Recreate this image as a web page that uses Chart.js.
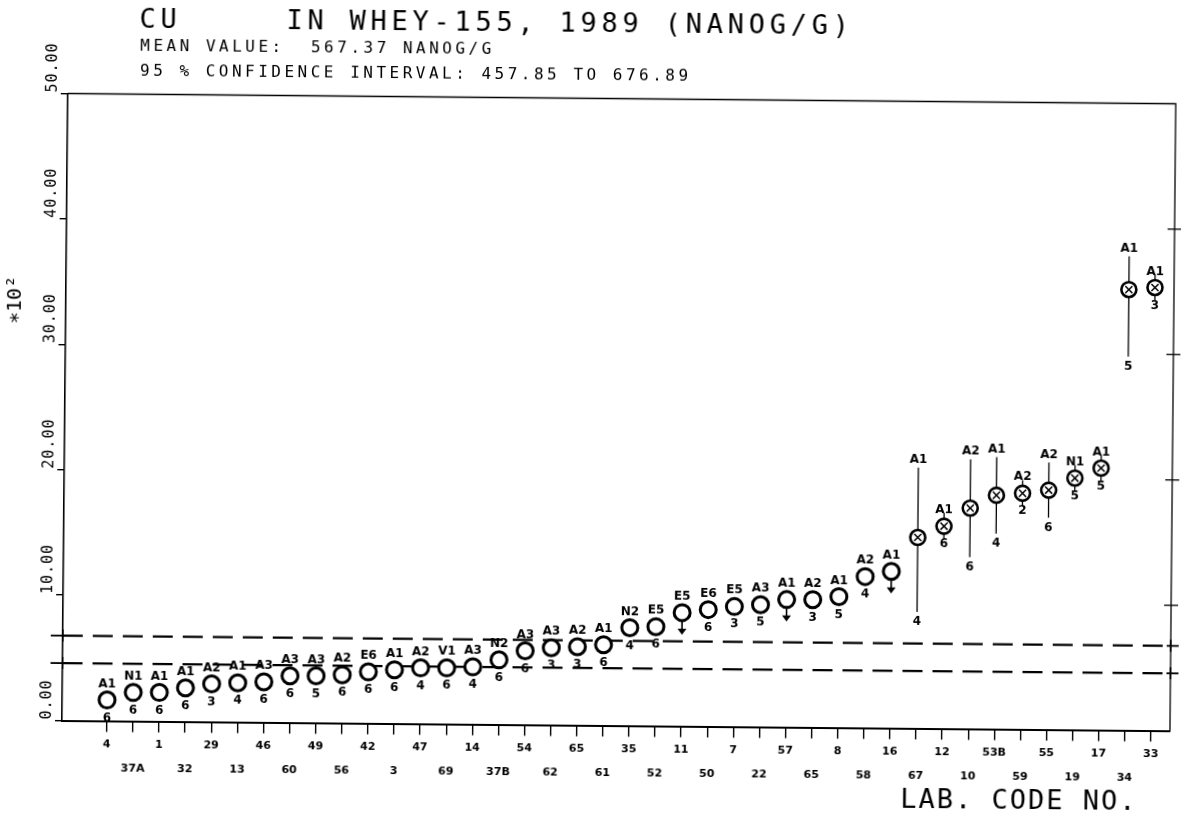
<!DOCTYPE html>
<html><head><meta charset="utf-8">
<script src="https://cdn.jsdelivr.net/npm/chart.js@4.4.0/dist/chart.umd.min.js"></script>
<style>
html,body{margin:0;padding:0;background:#fff;overflow:hidden;width:1181px;height:814px;}
#wrap{position:absolute;left:0;top:0;width:1181px;height:814px;transform-origin:62px 720px;transform:rotate(0.53deg);}
canvas{display:block}
</style></head><body>
<div id="wrap"><canvas id="c" width="1181" height="814"></canvas></div>
<script>
// ---- data ----
const titleText = 'CU     IN WHEY-155, 1989 (NANOG/G)';
const meanText = 'MEAN VALUE:  567.37 NANOG/G';
const ciText = '95 % CONFIDENCE INTERVAL: 457.85 TO 676.89';
const xAxisTitle = 'LAB. CODE NO.';
const yAxisTitle = '\u221710\u00B2';

const labCodes = ['4','37A','1','32','29','13','46','60','49','56','42','3','47','69','14','37B','54','62','65','61','35','52','11','50','7','22','57','65','8','58','16','67','12','10','53B','59','55','19','17','34','33'];
// values in units of 10^2 NANOG/G
const values = [1.67,2.29,2.31,2.69,3.03,3.13,3.23,3.73,3.75,3.85,4.10,4.29,4.46,4.48,4.58,5.16,5.90,6.16,6.26,6.44,7.82,7.92,9.06,9.32,9.58,9.75,10.18,10.19,10.45,12.07,12.50,15.23,16.14,17.60,18.65,18.83,19.09,20.07,20.89,35.15,35.33];
const methods = ['A1','N1','A1','A1','A2','A1','A3','A3','A3','A2','E6','A1','A2','V1','A3','N2','A3','A3','A2','A1','N2','E5','E5','E6','E5','A3','A1','A2','A1','A2','A1','A1','A1','A2','A1','A2','A2','N1','A1','A1','A1'];
const counts = ['6','6','6','6','3','4','6','6','5','6','6','6','4','6','4','6','6','3','3','6','4','6','','6','3','5','','3','5','4','','4','6','6','4','2','6','5','5','5','3'];
const rangeHigh = [null,null,null,null,null,null,null,null,null,null,null,null,null,null,null,null,null,null,null,null,null,null,null,null,null,null,null,null,null,null,null,20.8,null,21.5,21.7,null,21.3,null,null,37.8,null];
const rangeLow  = [null,null,null,null,null,null,null,null,null,null,null,null,null,null,null,null,null,null,null,null,null,null,null,null,null,null,null,null,null,null,null,9.3,null,13.7,15.6,null,16.9,null,null,29.8,null];
const lessThan = [22,26,30];          // indices drawn with a downward arrow
const flagged = [31,32,33,34,35,36,37,38,39,40]; // indices drawn as crossed circles
const ciLow = 4.5785, ciHigh = 6.7689;
const yTicks = [0,10,20,30,40,50];
const yTickLabels = ['0.00','10.00','20.00','30.00','40.00','50.00'];

const X_MIN = -1.72, X_MAX = 40.73;

const pts = values.map((v,i)=>({x:i,y:v}));
const flagPts = flagged.map(i=>({x:i,y:values[i]}));

const decor = {
  id:'decor',
  beforeDraw(chart){
    const c=chart.ctx; c.save(); c.fillStyle='#fff'; c.fillRect(0,0,chart.width,chart.height); c.restore();
  },
  beforeDatasetsDraw(chart){
    const c=chart.ctx, a=chart.chartArea, xs=chart.scales.x, ys=chart.scales.y;
    c.save();
    c.strokeStyle='#000';
    c.lineWidth=1.3;
    c.beginPath(); c.moveTo(a.left,a.top); c.lineTo(a.right,a.top); c.lineTo(a.right,a.bottom); c.stroke();
    yTicks.forEach(v=>{ if(v===0||v===50) return; const y=ys.getPixelForValue(v); c.beginPath(); c.moveTo(a.right-7,y); c.lineTo(a.right+7,y); c.stroke(); });
    c.lineWidth=1.8;
    [ciLow,ciHigh].forEach(v=>{ const y=ys.getPixelForValue(v);
      c.beginPath(); c.moveTo(a.left-12,y); c.lineTo(a.left,y); c.stroke();
      c.beginPath(); c.moveTo(a.right-4,y); c.lineTo(a.right+8,y); c.stroke();
      c.beginPath(); c.moveTo(a.right,y-6); c.lineTo(a.right,y+6); c.stroke();
      c.beginPath(); c.moveTo(a.left,y-6); c.lineTo(a.left,y+6); c.stroke();
    });
    c.lineWidth=1.3;
    values.forEach((v,i)=>{
      if(rangeHigh[i]==null) return;
      const x=xs.getPixelForValue(i);
      c.beginPath(); c.moveTo(x,ys.getPixelForValue(rangeHigh[i])); c.lineTo(x,ys.getPixelForValue(rangeLow[i])); c.stroke();
    });
    flagged.forEach(i=>{
      if(rangeHigh[i]!=null) return;
      const x=xs.getPixelForValue(i), y=ys.getPixelForValue(values[i]);
      c.beginPath(); c.moveTo(x,y-13); c.lineTo(x,y+13); c.stroke();
    });
    c.lineWidth=1.6; c.fillStyle='#000';
    lessThan.forEach(i=>{
      const x=xs.getPixelForValue(i), y=ys.getPixelForValue(values[i]);
      c.beginPath(); c.moveTo(x,y); c.lineTo(x,y+19); c.stroke();
      c.beginPath(); c.moveTo(x-4.5,y+16); c.lineTo(x+4.5,y+16); c.lineTo(x,y+22); c.closePath(); c.fill();
    });
    c.restore();
  },
  afterDraw(chart){
    const c=chart.ctx, a=chart.chartArea, xs=chart.scales.x, ys=chart.scales.y;
    c.save();
    c.fillStyle='#000';
    c.textAlign='left'; c.textBaseline='alphabetic';
    c.font='27px "DejaVu Sans Mono"'; c.letterSpacing='4.75px';
    c.fillText(titleText,133,27);
    c.font='16px "DejaVu Sans Mono"'; c.letterSpacing='3.5px';
    c.fillText(meanText,134,50);
    c.fillText(ciText,134,75);
    c.font='27px "DejaVu Sans Mono"'; c.letterSpacing='2px';
    c.fillText(xAxisTitle,901,800);
    c.font='15px "DejaVu Sans Mono"'; c.letterSpacing='1px';
    yTicks.forEach((v,k)=>{
      const y=ys.getPixelForValue(v);
      c.save(); c.translate(51,y-1); c.rotate(-Math.PI/2); c.textAlign='left'; c.fillText(yTickLabels[k],0,0); c.restore();
    });
    c.font='20px "DejaVu Sans Mono"'; c.letterSpacing='0px';
    c.save(); c.translate(12,ys.getPixelForValue(33.5)); c.rotate(-Math.PI/2); c.textAlign='center'; c.textBaseline='middle'; c.fillText(yAxisTitle,0,0); c.restore();
    c.font='bold 12px "DejaVu Sans"'; c.letterSpacing='0px'; c.textAlign='center'; c.textBaseline='middle';
    values.forEach((v,i)=>{
      const x=xs.getPixelForValue(i), y=ys.getPixelForValue(v);
      const top = rangeHigh[i]!=null ? ys.getPixelForValue(rangeHigh[i]) - 8 : y-16;
      const bot = rangeLow[i]!=null ? ys.getPixelForValue(rangeLow[i]) + 10 : y+18;
      c.fillText(methods[i],x,top);
      if(counts[i]) c.fillText(counts[i],x,bot);
    });
    c.restore();
  }
};

Chart.defaults.font.family='"DejaVu Sans"';
Chart.defaults.color='#000';

new Chart(document.getElementById('c'),{
  type:'scatter',
  data:{datasets:[
    {label:'flag',data:flagPts,pointStyle:'crossRot',pointRadius:5,borderColor:'#000',borderWidth:1.5,order:0},
    {label:'labs',data:pts,pointStyle:'circle',pointRadius:ctx=>flagged.includes(ctx.dataIndex)?7.5:8,borderWidth:ctx=>flagged.includes(ctx.dataIndex)?2.6:3,borderColor:'#000',backgroundColor:'#fff',order:1},
    {label:'ciHigh',type:'line',data:[{x:X_MIN,y:ciHigh},{x:X_MAX,y:ciHigh}],borderColor:'#000',borderWidth:2.4,borderDash:[20,10],pointRadius:0,order:2},
    {label:'ciLow',type:'line',data:[{x:X_MIN,y:ciLow},{x:X_MAX,y:ciLow}],borderColor:'#000',borderWidth:2.4,borderDash:[20,10],pointRadius:0,order:2}
  ]},
  options:{
    responsive:false,animation:false,devicePixelRatio:1,
    layout:{padding:{top:93.5,right:9,left:0,bottom:0}},
    plugins:{legend:{display:false},tooltip:{enabled:false},title:{display:false}},
    scales:{
      x:{type:'linear',min:X_MIN,max:X_MAX,
        afterBuildTicks:s=>{s.ticks=labCodes.map((_,i)=>({value:i}));},
        ticks:{autoSkip:false,maxRotation:0,minRotation:0,padding:0,color:'#000',
          font:{family:'"DejaVu Sans"',size:11,weight:'bold',lineHeight:2.25},
          callback:(v,i)=> i%2===0 ? labCodes[i] : ['',labCodes[i]]},
        grid:{drawOnChartArea:false,drawTicks:true,tickLength:11,color:'#000',lineWidth:1.4},
        border:{display:true,color:'#000',width:2},
        afterFit:s=>{s.height=93.5;}
      },
      y:{min:0,max:50,
        afterBuildTicks:s=>{s.ticks=yTicks.map(v=>({value:v}));},
        ticks:{display:false},
        grid:{drawOnChartArea:false,drawTicks:true,tickLength:7,color:'#000',lineWidth:1.4},
        border:{display:true,color:'#000',width:1.6},
        afterFit:s=>{s.width=62;}
      }
    }
  },
  plugins:[decor]
});
</script>
</body></html>
